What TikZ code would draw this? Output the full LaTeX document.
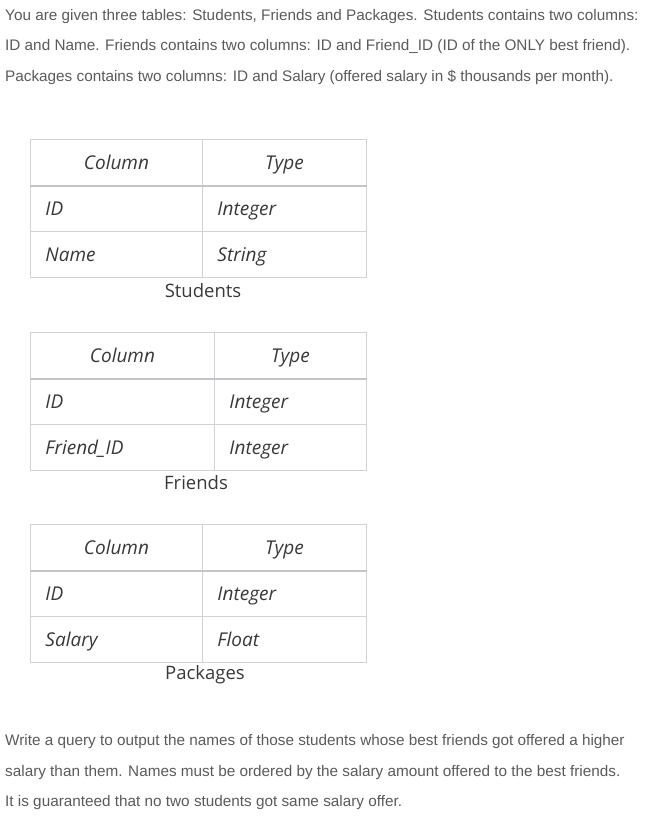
\documentclass[tikz,border=0pt]{standalone}
\usepackage{fontspec}
\setmainfont{Liberation Sans}
\newfontfamily\tabfont{Open Sans}
\usetikzlibrary{positioning}

\definecolor{prosec}{HTML}{5A5A5A}
\definecolor{tabtext}{HTML}{383838}
\definecolor{gridc}{HTML}{D2D2D8}
\definecolor{headc}{HTML}{C4C4CC}

\tikzset{
    prose/.style={anchor=west, inner sep=0pt, text=prosec, font=\fontsize{15.3}{18}\selectfont},
    cell/.style={draw=gridc, line width=0.9pt, anchor=north west, minimum height=46pt,
        inner xsep=15pt, inner ysep=0pt, text depth=0pt, text=tabtext, font=\tabfont\itshape\fontsize{19}{22}\selectfont},
    headcell/.style={cell, align=center},
    bodycell/.style={cell, align=left},
    caption/.style={inner sep=0pt, text=tabtext, font=\tabfont\fontsize{18.5}{22}\selectfont},
    headline/.style={draw=headc, line width=1.6pt}
}

\begin{document}
\begin{tikzpicture}[x=1pt, y=-1pt]
\useasboundingbox (0,0) rectangle (647,817);

% Intro text
\node[prose] (intro1) at (5,17) {You are given three tables: Students, Friends and Packages. Students contains two columns:};
\node[prose] (intro2) at (5,47) {ID and Name. Friends contains two columns: ID and Friend\_ID (ID of the ONLY best friend).};
\node[prose] (intro3) at (5,77) {Packages contains two columns: ID and Salary (offered salary in \$ thousands per month).};

% Students
\node[headcell, text width=142pt] (s11) at (30,139) {Column};
\node[headcell, text width=134pt] (s12) at (202,139) {Type};
\node[bodycell, text width=142pt] (s21) at (30,185) {ID};
\node[bodycell, text width=134pt] (s22) at (202,185) {Integer};
\node[bodycell, text width=142pt] (s31) at (30,231) {Name};
\node[bodycell, text width=134pt] (s32) at (202,231) {String};
\draw[headline] (s11.south west) -- (s12.south east);
\node[caption] (scap) at (203,291) {Students};

% Friends
\node[headcell, text width=154pt] (f11) at (30,332) {Column};
\node[headcell, text width=122pt] (f12) at (214,332) {Type};
\node[bodycell, text width=154pt] (f21) at (30,378) {ID};
\node[bodycell, text width=122pt] (f22) at (214,378) {Integer};
\node[bodycell, text width=154pt] (f31) at (30,424) {Friend\_ID};
\node[bodycell, text width=122pt] (f32) at (214,424) {Integer};
\draw[headline] (f11.south west) -- (f12.south east);
\node[caption] (fcap) at (196,483) {Friends};

% Packages
\node[headcell, text width=142pt] (p11) at (30,524) {Column};
\node[headcell, text width=134pt] (p12) at (202,524) {Type};
\node[bodycell, text width=142pt] (p21) at (30,570) {ID};
\node[bodycell, text width=134pt] (p22) at (202,570) {Integer};
\node[bodycell, text width=142pt] (p31) at (30,616) {Salary};
\node[bodycell, text width=134pt] (p32) at (202,616) {Float};
\draw[headline] (p11.south west) -- (p12.south east);
\node[caption] (pcap) at (205,675) {Packages};

% Task text
\node[prose] (task1) at (5,742) {Write a query to output the names of those students whose best friends got offered a higher};
\node[prose] (task2) at (5,773) {salary than them. Names must be ordered by the salary amount offered to the best friends.};
\node[prose] (task3) at (5,803) {It is guaranteed that no two students got same salary offer.};

\end{tikzpicture}
\end{document}
